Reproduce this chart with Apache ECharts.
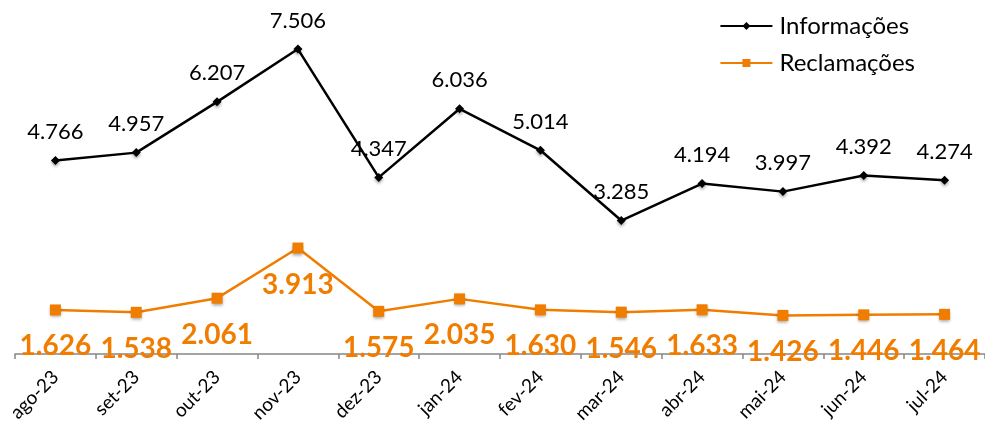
<!DOCTYPE html>
<html>
<head>
<meta charset="utf-8">
<script src="https://cdn.jsdelivr.net/npm/echarts@6/dist/echarts.min.js"></script>
<style>
  html, body { margin: 0; padding: 0; background: #fff; }
  #chart { width: 985px; height: 422px; }
</style>
</head>
<body>
<div id="chart"></div>
<script>
var meses = ['ago-23', 'set-23', 'out-23', 'nov-23', 'dez-23', 'jan-24', 'fev-24', 'mar-24', 'abr-24', 'mai-24', 'jun-24', 'jul-24'];
var informacoes = [4766, 4957, 6207, 7506, 4347, 6036, 5014, 3285, 4194, 3997, 4392, 4274];
var reclamacoes = [1626, 1538, 2061, 3913, 1575, 2035, 1630, 1546, 1633, 1426, 1446, 1464];

var laranja = '#F07D00';

// 4766 -> "4.766"
function milhar(p) {
  return String(p.value).replace(/\B(?=(\d{3})+(?!\d))/g, '.');
}

var chart = echarts.init(document.getElementById('chart'));

var option = {
  animation: false,
  textStyle: { fontFamily: 'Lato' },
  legend: {
    orient: 'vertical',
    right: 65,
    top: 9,
    itemWidth: 52,
    itemHeight: 10,
    itemGap: 13,
    textStyle: { fontSize: 24, color: '#000', fontFamily: 'Lato', padding: [0, 0, 0, 2] },
    data: ['Informações', 'Reclamações']
  },
  grid: {
    left: 15,
    right: 0,
    top: 29,
    bottom: 68,
    outerBoundsMode: 'none'
  },
  xAxis: {
    type: 'category',
    data: meses,
    boundaryGap: true,
    axisLine: { lineStyle: { color: '#868686', width: 1.5 } },
    axisTick: { show: true, length: 5, lineStyle: { color: '#868686', width: 1.5 } },
    axisLabel: {
      rotate: 45,
      interval: 0,
      margin: 20,
      fontSize: 19,
      color: '#000',
      fontFamily: 'Lato'
    }
  },
  yAxis: [
    { type: 'value', min: 0, max: 8000, show: false, splitLine: { show: false } },
    { type: 'value', min: 0, max: 12000, show: false, splitLine: { show: false } }
  ],
  series: [
    {
      name: 'Informações',
      type: 'line',
      yAxisIndex: 0,
      data: informacoes,
      symbol: 'diamond',
      symbolSize: 9,
      lineStyle: { color: '#000', width: 2.5 },
      itemStyle: {
        color: '#000',
        shadowColor: 'rgba(0,0,0,0.35)',
        shadowBlur: 3,
        shadowOffsetY: 2
      },
      label: {
        show: true,
        position: 'top',
        distance: 13,
        fontSize: 22,
        color: '#000',
        fontFamily: 'Lato',
        formatter: milhar
      }
    },
    {
      name: 'Reclamações',
      type: 'line',
      yAxisIndex: 1,
      data: reclamacoes,
      symbol: 'rect',
      symbolSize: 11,
      lineStyle: { color: laranja, width: 2.5 },
      itemStyle: {
        color: laranja,
        shadowColor: 'rgba(0,0,0,0.35)',
        shadowBlur: 3,
        shadowOffsetY: 2
      },
      label: {
        show: true,
        position: 'bottom',
        distance: 17,
        fontSize: 28,
        fontWeight: 'bold',
        color: laranja,
        fontFamily: 'Lato',
        formatter: milhar
      }
    }
  ]
};

chart.setOption(option);
</script>
</body>
</html>
